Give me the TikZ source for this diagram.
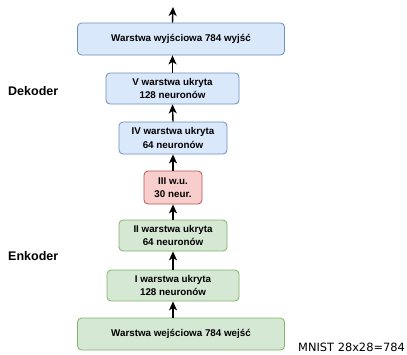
\documentclass[tikz,border=0pt]{standalone}
\usepackage{fontspec}
\setmainfont{Liberation Sans}
\newfontfamily\mnistfont{DejaVu Sans}
\usetikzlibrary{arrows.meta}
\definecolor{bfill}{HTML}{DAE8FC}\definecolor{bline}{HTML}{6C8EBF}
\definecolor{rfill}{HTML}{F8CECC}\definecolor{rline}{HTML}{B85450}
\definecolor{gfill}{HTML}{D5E8D4}\definecolor{gline}{HTML}{82B366}
\begin{document}
\begin{tikzpicture}[x=1pt,y=-1pt,
  box/.style={draw, rounded corners=4pt, line width=0.8pt, align=center, inner sep=0pt,
    font=\fontsize{9.8}{13.5}\selectfont\bfseries},
  bluebox/.style={box, fill=bfill, draw=bline},
  redbox/.style={box, fill=rfill, draw=rline},
  greenbox/.style={box, fill=gfill, draw=gline},
  arr/.style={-{Stealth[length=9pt,width=8pt,inset=2.5pt]}, line width=1.4pt},
  lbl/.style={font=\fontsize{12.5}{14}\selectfont\bfseries, anchor=west, inner sep=0pt}]
\useasboundingbox (0,0) rectangle (407,354);
\node[bluebox, minimum width=207pt, minimum height=32pt] (out) at (181,39) {Warstwa wyjściowa 784 wyjść};
\node[bluebox, minimum width=133pt, minimum height=31pt] (v) at (172.5,88.5) {V warstwa ukryta\\128 neuronów};
\node[bluebox, minimum width=108pt, minimum height=32pt] (iv) at (173,138) {IV warstwa ukryta\\64 neuronów};
\node[redbox, minimum width=58pt, minimum height=33pt] (iii) at (173,187.5) {III w.u.\\30 neur.};
\node[greenbox, minimum width=108pt, minimum height=31pt] (ii) at (173,235.5) {II warstwa ukryta\\64 neuronów};
\node[greenbox, minimum width=132pt, minimum height=31pt] (i) at (173,285.5) {I warstwa ukryta\\128 neuronów};
\node[greenbox, minimum width=207pt, minimum height=32pt] (in) at (181,334) {Warstwa wejściowa 784 wejść};
\coordinate (top) at (173,7);
\draw[arr] (in.north -| i.north) -- (i.south);
\draw[arr] (i.north) -- (ii.south);
\draw[arr] (ii.north) -- (iii.south);
\draw[arr] (iii.north) -- (iv.south);
\draw[arr] (iv.north) -- (v.south);
\draw[arr] (v.north) -- (out.south -| v.north);
\draw[arr] (out.north -| v.north) -- (top);
\node[lbl] (dek) at (8,91) {Dekoder};
\node[lbl] (enk) at (8,256) {Enkoder};
\node[font=\mnistfont\fontsize{11.4}{13}\selectfont, anchor=base west, inner sep=0pt] (mnist) at (298,351) {MNIST 28x28=784};
\end{tikzpicture}
\end{document}
